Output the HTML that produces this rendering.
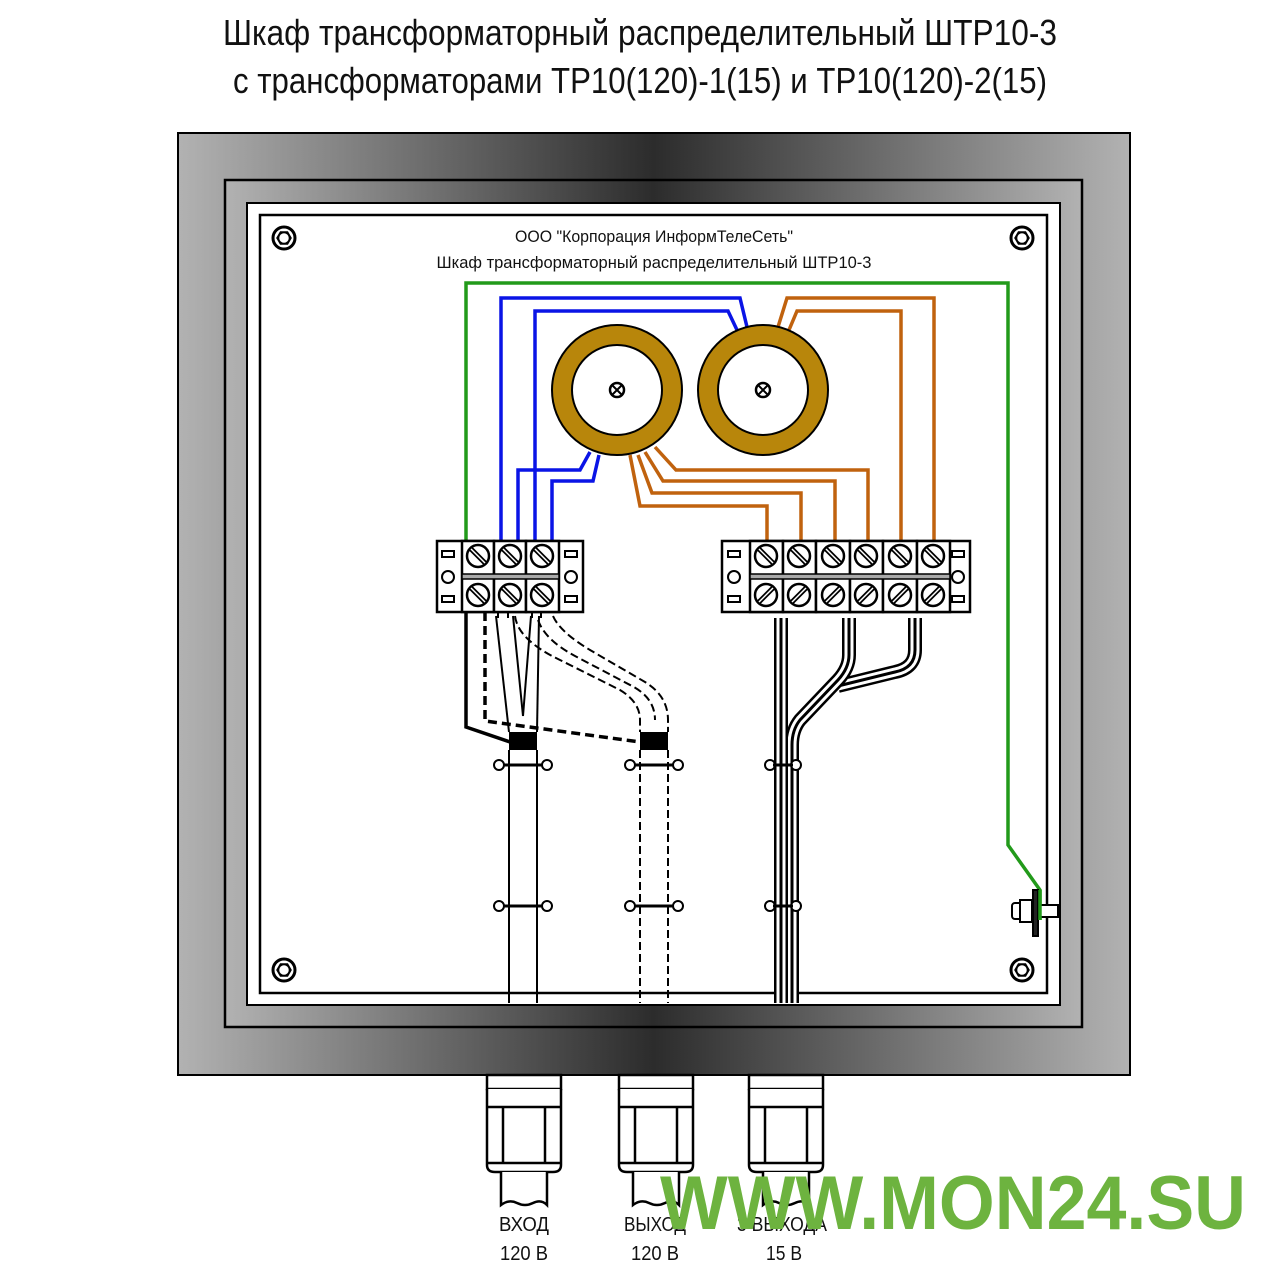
<!DOCTYPE html>
<html><head><meta charset="utf-8"><style>
html,body{margin:0;padding:0;background:#fff;width:1280px;height:1280px;overflow:hidden}
svg{display:block}
text{font-family:"Liberation Sans","DejaVu Sans",sans-serif}
</style></head><body>
<svg width="1280" height="1280" viewBox="0 0 1280 1280" xmlns="http://www.w3.org/2000/svg">
<defs>
<linearGradient id="g" x1="0" x2="1" y1="0" y2="0">
<stop offset="0" stop-color="#b2b2b2"/><stop offset="0.5" stop-color="#2c2c2c"/><stop offset="1" stop-color="#b2b2b2"/>
</linearGradient>
<g id="bolt"><circle r="11" fill="#fff" stroke="#000" stroke-width="3"/><polygon points="7,0 3.5,6 -3.5,6 -7,0 -3.5,-6 3.5,-6" fill="none" stroke="#000" stroke-width="1.5"/><circle r="5.5" fill="#fff" stroke="#000" stroke-width="1.5"/></g>
<g id="sa"><circle r="11" fill="#fff" stroke="#000" stroke-width="2.5"/><line x1="-7" y1="-7" x2="7" y2="7" stroke="#000" stroke-width="5"/><line x1="-7" y1="-7" x2="7" y2="7" stroke="#fff" stroke-width="1.5"/></g>
<g id="sb"><circle r="11" fill="#fff" stroke="#000" stroke-width="2.5"/><line x1="-7" y1="7" x2="7" y2="-7" stroke="#000" stroke-width="5"/><line x1="-7" y1="7" x2="7" y2="-7" stroke="#fff" stroke-width="1.5"/></g>
<g id="cl"><circle cx="-24" r="5" fill="#fff" stroke="#000" stroke-width="2"/><circle cx="24" r="5" fill="#fff" stroke="#000" stroke-width="2"/><line x1="-19" x2="19" stroke="#000" stroke-width="3"/></g>
<g id="cl2"><circle cx="-13" r="5" fill="#fff" stroke="#000" stroke-width="2"/><circle cx="13" r="5" fill="#fff" stroke="#000" stroke-width="2"/><line x1="-10" x2="10" stroke="#000" stroke-width="3"/></g>
<g id="gl" fill="none" stroke="#000" stroke-width="2.5">
<rect x="0" y="0" width="74" height="14" fill="#fff"/>
<path d="M0,14 V90 Q0,97 8,97 H66 Q74,97 74,90 V14" fill="#fff"/>
<line x1="0" y1="32" x2="74" y2="32"/><line x1="0" y1="88" x2="74" y2="88"/>
<line x1="16" y1="32" x2="16" y2="88"/><line x1="58" y1="32" x2="58" y2="88"/>
<path d="M14,97 V130 Q22,124 30,128 T46,128 Q54,124 60,130 V97" fill="#fff"/>
</g>
</defs>
<text x="640" y="45" font-size="36" text-anchor="middle" textLength="834" lengthAdjust="spacingAndGlyphs" fill="#111">Шкаф трансформаторный распределительный ШТР10-3</text>
<text x="640" y="93" font-size="36" text-anchor="middle" textLength="814" lengthAdjust="spacingAndGlyphs" fill="#111">с трансформаторами ТР10(120)-1(15) и ТР10(120)-2(15)</text>

<rect x="178" y="133" width="952" height="942" fill="url(#g)" stroke="#000" stroke-width="2"/>
<rect x="225" y="180" width="857" height="847" fill="url(#g)" stroke="#000" stroke-width="2.5"/>
<rect x="247" y="203" width="813" height="802" fill="#fff" stroke="#000" stroke-width="2"/>
<rect x="260" y="215" width="787" height="778" fill="#fff" stroke="#000" stroke-width="2.5"/>

<use href="#bolt" x="284" y="238"/><use href="#bolt" x="1022" y="238"/>
<use href="#bolt" x="284" y="970"/><use href="#bolt" x="1022" y="970"/>

<text x="654" y="242" font-size="17" text-anchor="middle" textLength="278" lengthAdjust="spacingAndGlyphs" fill="#111">ООО "Корпорация ИнформТелеСеть"</text>
<text x="654" y="268" font-size="17" text-anchor="middle" textLength="435" lengthAdjust="spacingAndGlyphs" fill="#111">Шкаф трансформаторный распределительный ШТР10-3</text>

<polyline points="466,545 466,283 1008,283 1008,845 1040,890 1040,920" fill="none" stroke="#229a1a" stroke-width="3.5"/>
<g fill="none" stroke="#0a14e6" stroke-width="3.5">
<polyline points="501,545 501,298 740,298 747,327"/>
<polyline points="535,545 535,311 728,311 737,330"/>
<polyline points="518,545 518,470 580,470 590,452"/>
<polyline points="552,545 552,481 593,481 599,455"/>
</g>
<g fill="none" stroke="#c0620e" stroke-width="3.5">
<polyline points="934,545 934,298 787,298 778,327"/>
<polyline points="901,545 901,311 797,311 789,330"/>
<polyline points="868,545 868,470 676,470 655,447"/>
<polyline points="835,545 835,481 663,481 645,452"/>
<polyline points="801,545 801,493 652,493 638,455"/>
<polyline points="767,545 767,506 640,506 630,455"/>
</g>
<g stroke="#000" stroke-width="2">
<circle cx="617" cy="390" r="65" fill="#b8860b"/><circle cx="617" cy="390" r="45" fill="#fff"/>
<circle cx="763" cy="390" r="65" fill="#b8860b"/><circle cx="763" cy="390" r="45" fill="#fff"/>
<circle cx="617" cy="390" r="7" fill="#fff" stroke-width="2.5"/><path d="M612,385 L622,395 M622,385 L612,395" stroke-width="2"/>
<circle cx="763" cy="390" r="7" fill="#fff" stroke-width="2.5"/><path d="M758,385 L768,395 M768,385 L758,395" stroke-width="2"/>
</g>

<g stroke="#000" stroke-width="2.5" fill="#fff">
<rect x="437" y="541" width="146" height="71"/>
<rect x="462" y="541" width="32" height="71"/><rect x="494" y="541" width="32" height="71"/><rect x="526" y="541" width="33" height="71"/>
<rect x="722" y="541" width="248" height="71"/>
<rect x="750" y="541" width="33" height="71"/><rect x="783" y="541" width="33" height="71"/><rect x="816" y="541" width="34" height="71"/>
<rect x="850" y="541" width="33" height="71"/><rect x="883" y="541" width="34" height="71"/><rect x="917" y="541" width="33" height="71"/>
</g>
<g fill="#aaa" stroke="#000" stroke-width="1.5">
<rect x="462" y="574" width="97" height="5"/><rect x="750" y="574" width="200" height="5"/>
</g>
<g fill="#fff" stroke="#000" stroke-width="2">
<rect x="442" y="551" width="12" height="6"/><rect x="442" y="596" width="12" height="6"/><circle cx="448" cy="577" r="6"/>
<rect x="565" y="551" width="12" height="6"/><rect x="565" y="596" width="12" height="6"/><circle cx="571" cy="577" r="6"/>
<rect x="728" y="551" width="12" height="6"/><rect x="728" y="596" width="12" height="6"/><circle cx="734" cy="577" r="6"/>
<rect x="952" y="551" width="12" height="6"/><rect x="952" y="596" width="12" height="6"/><circle cx="958" cy="577" r="6"/>
</g>
<use href="#sa" x="478" y="556"/><use href="#sa" x="510" y="556"/><use href="#sa" x="542" y="556"/>
<use href="#sa" x="478" y="595"/><use href="#sa" x="510" y="595"/><use href="#sa" x="542" y="595"/>
<use href="#sa" x="766" y="556"/><use href="#sa" x="799" y="556"/><use href="#sa" x="833" y="556"/><use href="#sa" x="866" y="556"/><use href="#sa" x="900" y="556"/><use href="#sa" x="933" y="556"/>
<use href="#sb" x="766" y="595"/><use href="#sb" x="799" y="595"/><use href="#sb" x="833" y="595"/><use href="#sb" x="866" y="595"/><use href="#sb" x="900" y="595"/><use href="#sb" x="933" y="595"/>

<g fill="none" stroke="#000">
<polyline points="466,612 466,727 510,742" stroke-width="3.5"/>
<polyline points="485,612 485,721 640,742" stroke-width="3.5" stroke-dasharray="9,5"/>
<g stroke-width="2">
<line x1="496" y1="616" x2="509" y2="732"/><line x1="513" y1="616" x2="523" y2="716"/><line x1="531" y1="616" x2="523" y2="716"/><line x1="539" y1="616" x2="537" y2="732"/>
<path d="M498,612 V618 M508,612 V618 M532,612 V618 M541,612 V618"/>
</g>
<g stroke-width="2" stroke-dasharray="8,4">
<path d="M515,616 Q518,640 560,660 L620,690 Q640,702 640,720 V732"/>
<path d="M553,616 Q560,632 590,650 L645,682 Q668,696 668,720 V732"/>
<path d="M538,620 Q545,640 575,656 L632,686 Q655,698 655,720"/>
<path d="M640,750 V1003 M668,750 V1003"/>
</g>
<path d="M509,750 V1003 M537,750 V1003" stroke-width="2"/>
</g>
<rect x="509" y="732" width="28" height="18" fill="#000"/>
<rect x="640" y="732" width="28" height="18" fill="#000"/>

<g fill="none" stroke-linejoin="round">
<path d="M915,618 V650 Q915,668 895,672 L838,686" stroke="#000" stroke-width="14"/>
<path d="M915,618 V650 Q915,668 895,672 L838,686" stroke="#fff" stroke-width="9"/>
<path d="M915,618 V650 Q915,668 895,672 L838,686" stroke="#000" stroke-width="3"/>
<path d="M849,618 V655 Q849,668 838,680 L800,720 Q792,730 792,745 V1003" stroke="#000" stroke-width="14"/>
<path d="M849,618 V655 Q849,668 838,680 L800,720 Q792,730 792,745 V1003" stroke="#fff" stroke-width="9"/>
<path d="M849,618 V655 Q849,668 838,680 L800,720 Q792,730 792,745 V1003" stroke="#000" stroke-width="3"/>
<path d="M781,618 V1003" stroke="#000" stroke-width="14"/>
<path d="M781,618 V1003" stroke="#fff" stroke-width="9"/>
<path d="M781,618 V1003" stroke="#000" stroke-width="3"/>
</g>

<use href="#cl" x="523" y="765"/><use href="#cl" x="523" y="906"/>
<use href="#cl" x="654" y="765"/><use href="#cl" x="654" y="906"/>
<use href="#cl2" x="783" y="765"/><use href="#cl2" x="783" y="906"/>

<g stroke="#000" stroke-width="2" fill="#fff">
<rect x="1040" y="905" width="18" height="12"/>
<rect x="1012" y="903" width="10" height="16" rx="3"/>
<rect x="1020" y="900" width="12" height="22"/>
<rect x="1033" y="890" width="5" height="46" fill="#222"/>
</g>
<line x1="1040" y1="890" x2="1040" y2="920" stroke="#229a1a" stroke-width="3.5"/>

<use href="#gl" x="487" y="1075"/><use href="#gl" x="619" y="1075"/><use href="#gl" x="749" y="1075"/>
<g font-size="20" text-anchor="middle" fill="#111">
<text x="524" y="1231" textLength="50" lengthAdjust="spacingAndGlyphs">ВХОД</text>
<text x="524" y="1260" textLength="48" lengthAdjust="spacingAndGlyphs">120 В</text>
<text x="655" y="1231" textLength="62" lengthAdjust="spacingAndGlyphs">ВЫХОД</text>
<text x="655" y="1260" textLength="48" lengthAdjust="spacingAndGlyphs">120 В</text>
<text x="782" y="1231" textLength="90" lengthAdjust="spacingAndGlyphs">3 ВЫХОДА</text>
<text x="784" y="1260" textLength="36" lengthAdjust="spacingAndGlyphs">15 В</text>
</g>
<text x="660" y="1229" font-size="76" font-weight="bold" fill="#6db33f" textLength="586" lengthAdjust="spacingAndGlyphs">WWW.MON24.SU</text>
</svg>
</body></html>
